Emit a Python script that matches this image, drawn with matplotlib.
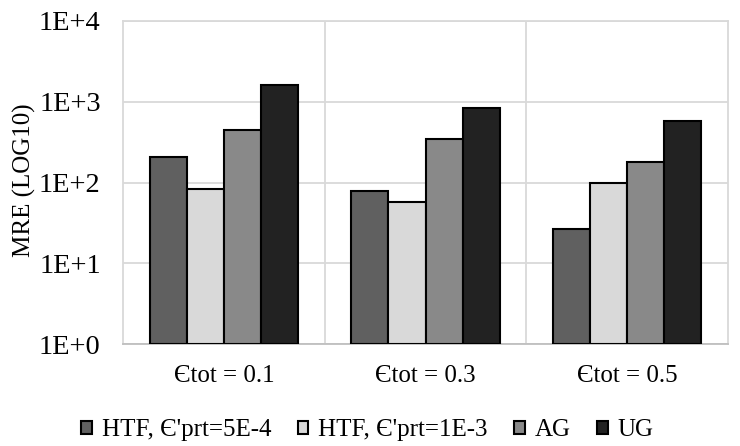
import matplotlib
matplotlib.use("Agg")
import matplotlib.pyplot as plt
import numpy as np
from matplotlib.ticker import FixedLocator, FixedFormatter, NullFormatter

categories = ["Єtot = 0.1", "Єtot = 0.3", "Єtot = 0.5"]
series_names = ["HTF, Є'prt=5E-4", "HTF, Є'prt=1E-3", "AG", "UG"]
htf_5e4 = [207, 77, 26]
htf_1e3 = [83, 56, 97]
ag = [447, 350, 177]
ug = [1610, 840, 580]
y_ticks = [1, 10, 100, 1000, 10000]
y_tick_labels = ["1E+0", "1E+1", "1E+2", "1E+3", "1E+4"]

colors = ["#606060", "#d9d9d9", "#898989", "#222222"]
values = [htf_5e4, htf_1e3, ag, ug]

plt.rcParams['font.family'] = ['Liberation Serif', 'DejaVu Serif']

W, H = 740, 446
fig = plt.figure(figsize=(W / 100, H / 100), dpi=100)
ax = fig.add_axes([123 / W, 1 - 344.3 / H, (728 - 123) / W, (344.3 - 21) / H])

x = np.arange(len(categories))
bw = 0.1835
offsets = (np.arange(4) - 1.5) * bw
for i, (name, vals, c) in enumerate(zip(series_names, values, colors)):
    ax.bar(x + offsets[i], vals, width=bw, bottom=1, color=c,
           edgecolor="black", linewidth=1.5, label=name, zorder=3)

ax.set_yscale("log")
ax.set_ylim(1, 10000)
ax.set_xlim(-0.5, 2.5)
ax.yaxis.set_major_locator(FixedLocator(y_ticks))
ax.yaxis.set_major_formatter(FixedFormatter(y_tick_labels))
ax.yaxis.set_minor_formatter(NullFormatter())
ax.yaxis.set_minor_locator(FixedLocator([]))
ax.set_xticks(x)
ax.set_xticklabels(categories)
ax.set_xticks([0.5, 1.5], minor=True)
ax.grid(True, which="major", axis="y", color="#d9d9d9", linewidth=1.3, zorder=0)
ax.grid(True, which="minor", axis="x", color="#d9d9d9", linewidth=1.3, zorder=0)
ax.tick_params(axis="both", which="both", length=0)
ax.tick_params(axis="y", pad=16, labelsize=20.5)
ax.tick_params(axis="x", pad=15, labelsize=18)
for s in ["left", "right", "top"]:
    ax.spines[s].set_color("#d9d9d9")
    ax.spines[s].set_linewidth(1.3)
ax.spines["bottom"].set_color("#bfbfbf")
ax.spines["bottom"].set_linewidth(1.3)

ax.set_ylabel("MRE (LOG10)", fontsize=18)
ax.yaxis.set_label_coords(-0.143, 0.508)

fig.legend(loc="center", bbox_to_anchor=(0.4965, 1 - 430 / H), ncol=4, frameon=False,
           fontsize=18, handlelength=0.42, handleheight=0.42, handletextpad=0.4,
           columnspacing=1.06)

fig.savefig("out.png", dpi=100)
